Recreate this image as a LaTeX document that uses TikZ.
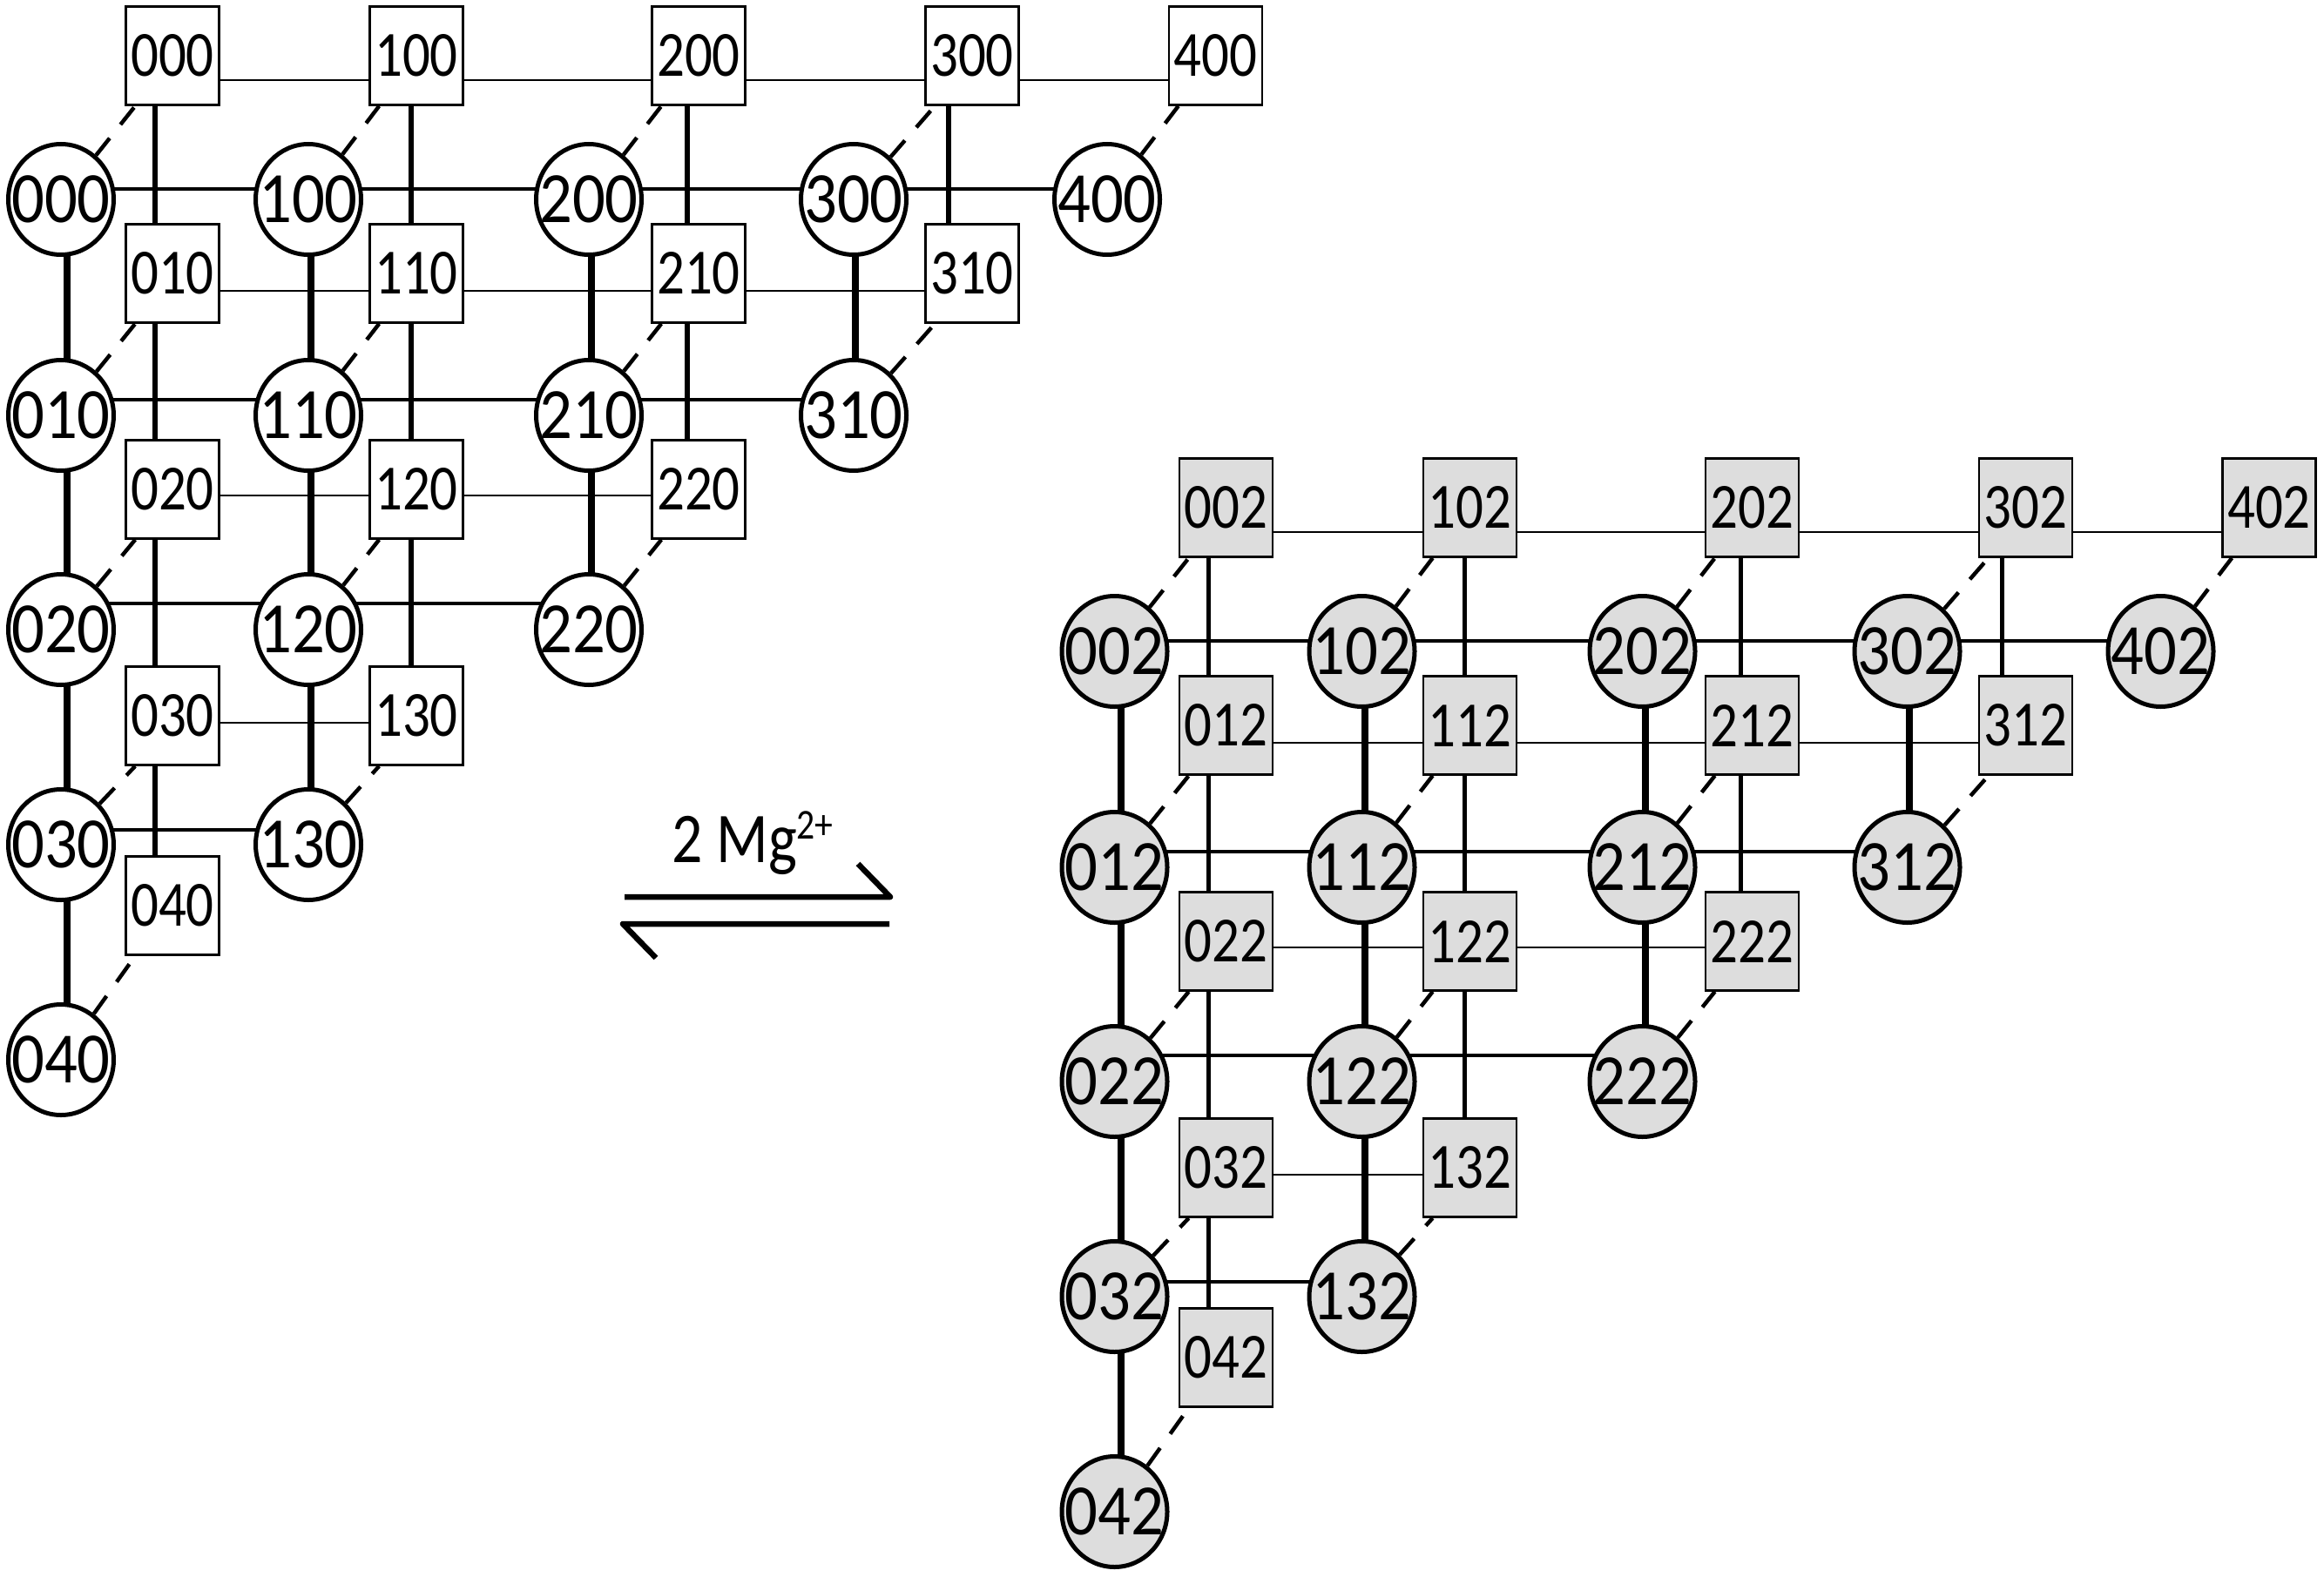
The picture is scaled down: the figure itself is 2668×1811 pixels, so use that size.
\documentclass[tikz,border=0pt]{standalone}
\usepackage{fontspec}
\newfontfamily\circfont[FakeStretch=0.9]{Carlito}
\newfontfamily\sqfont[FakeStretch=0.85]{Carlito}
\newfontfamily\mgfont[FakeStretch=0.85]{Carlito}
\usetikzlibrary{shapes.geometric,backgrounds,calc}
\definecolor{nodegray}{RGB}{221,221,221}
\begin{document}
\begin{tikzpicture}[x=1pt,y=-1pt,
  circ/.style={ellipse, draw, line width=5pt, minimum width=121pt, minimum height=127pt, inner sep=0pt, font=\circfont\fontsize{83}{90}\selectfont},
  sq/.style={rectangle, draw, line width=2.6pt, minimum width=107pt, minimum height=113pt, inner sep=0pt, font=\sqfont\fontsize{74}{80}\selectfont},
  cvert/.style={line width=8pt},
  chor/.style={line width=4pt},
  svert/.style={line width=5.2pt},
  shor/.style={line width=2.8pt},
  dsh/.style={line width=4.5pt, dash pattern=on 25pt off 20pt},
  eqarrow/.style={line width=6.5pt, line join=round}
]
\useasboundingbox (0,0) rectangle (2668,1811);

% nodes of both lattices
\foreach \g/\dx/\dy/\fc in {0/0/0/white, 2/1209.5/519/nodegray} {
  \foreach \a in {0,...,4} {
    \pgfmathtruncatemacro{\bmax}{4-\a}
    \foreach \b in {0,...,\bmax} {
      \pgfmathsetmacro{\ccx}{{70,354,676,980,1271}[\a]+\dx}
      \pgfmathsetmacro{\ccy}{{229,477,723,970,1217}[\b]+\dy}
      \pgfmathsetmacro{\scx}{{198,478,802,1116,1395.5}[\a]+\dx}
      \pgfmathsetmacro{\scy}{{64,314,562,822,1040}[\b]+\dy}
      \pgfmathsetmacro{\hcx}{{77,357,679,982,1271}[\a]+\dx}
      \pgfmathsetmacro{\hcy}{{217,459,693,953,1217}[\b]+\dy}
      \pgfmathsetmacro{\hsx}{{178,472,789,1089,1395}[\a]+\dx}
      \pgfmathsetmacro{\hsy}{{92,334,569,830,1040}[\b]+\dy}
      \node[sq, fill=\fc] (s\a\b\g) at (\scx,\scy) {\a\b\g};
      \node[circ, fill=\fc] (c\a\b\g) at (\ccx,\ccy) {\makebox[0pt]{\a\b\g}};
      \coordinate (hc\a\b\g) at (\hcx,\hcy);
      \coordinate (hs\a\b\g) at (\hsx,\hsy);
    }
  }
}

% connectors
\begin{scope}[on background layer]
\foreach \g in {0,2} {
  \foreach \a in {0,...,4} {
    \pgfmathtruncatemacro{\bmax}{4-\a}
    \foreach \b in {0,...,\bmax} {
      \draw[dsh] (c\a\b\g) -- ([xshift=12pt]s\a\b\g.south west);
    }
  }
  \foreach \a in {0,...,3} {
    \pgfmathtruncatemacro{\bmax}{3-\a}
    \pgfmathtruncatemacro{\an}{\a+1}
    \foreach \b in {0,...,\bmax} {
      \draw[chor] (hc\a\b\g) -- (hc\an\b\g);
      \draw[shor] (hs\a\b\g) -- (hs\an\b\g);
    }
  }
  \foreach \a in {0,...,3} {
    \pgfmathtruncatemacro{\bmax}{3-\a}
    \foreach \b in {0,...,\bmax} {
      \pgfmathtruncatemacro{\bn}{\b+1}
      \draw[cvert] (hc\a\b\g) -- (hc\a\bn\g);
      \draw[svert] (hs\a\b\g) -- (hs\a\bn\g);
    }
  }
}
\end{scope}

% equilibrium arrows
\coordinate (eqTopL) at (717,1030);
\coordinate (eqTopR) at (1022,1030);
\coordinate (eqTopB) at (985,992);
\coordinate (eqBotR) at (1021,1061);
\coordinate (eqBotL) at (715,1061);
\coordinate (eqBotB) at (753,1100);
\draw[eqarrow] (eqTopL) -- (eqTopR) -- (eqTopB);
\draw[eqarrow] (eqBotR) -- (eqBotL) -- (eqBotB);
\node[anchor=base, inner sep=0pt, font=\mgfont\fontsize{82}{90}\selectfont] (mg) at (864,990) {2 Mg\raisebox{27pt}{\fontsize{49}{55}\selectfont 2+}};
\end{tikzpicture}
\end{document}
